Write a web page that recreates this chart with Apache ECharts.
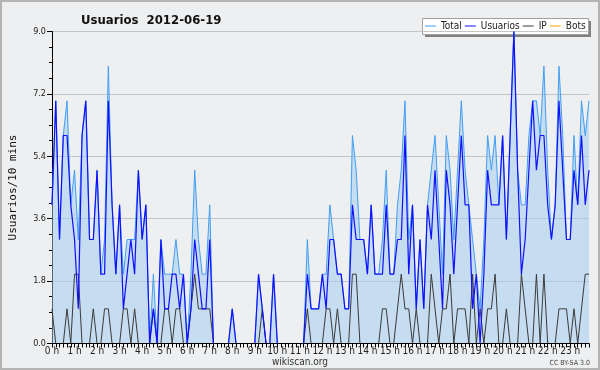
<!DOCTYPE html>
<html><head><meta charset="utf-8">
<script src="https://cdn.jsdelivr.net/npm/echarts@6/dist/echarts.min.js"></script>
<style>html,body{margin:0;padding:0;background:#eeeff0;}#c{width:600px;height:370px;}</style>
</head><body><div id="c"></div>
<script>
// values per 10-minute slot, 00:00 .. 23:50
const total = [4,7,3,6,7,4,5,3,6,7,3,3,5,2,3,8,4,2,4,2,3,3,3,5,
  3,4,0,2,0,3,2,2,2,3,2,2,0,2,5,3,2,2,4,0,0,0,0,0,
  1,0,0,0,0,0,0,2,1,0,0,2,0,0,0,0,0,0,0,0,3,1,1,1,
  2,2,4,3,2,2,1,1,6,5,3,3,2,4,2,2,3,5,2,2,4,5,7,3,
  4,1,3,1,4,5,6,4,2,6,5,3,5,7,5,4,3,2,1,3,6,5,6,4,
  6,3,6,9,5,4,4,6,7,7,6,8,5,3,4,8,6,3,3,6,4,7,6,7];
const usuarios = [4,7,3,6,6,4,3,1,6,7,3,3,5,2,2,7,4,2,4,1,2,3,2,5,
  3,4,0,1,0,3,1,1,2,2,1,2,0,1,3,2,1,1,3,0,0,0,0,0,
  1,0,0,0,0,0,0,2,1,0,0,2,0,0,0,0,0,0,0,0,2,1,1,1,
  2,1,3,3,2,2,1,1,4,3,3,3,2,4,2,2,2,4,2,2,3,3,6,2,
  4,1,3,1,4,3,5,3,1,5,4,2,4,6,4,4,1,2,0,2,5,4,4,4,
  6,3,6,9,5,2,3,5,7,5,6,6,4,3,4,7,5,3,3,5,4,6,4,5];
const ip = [1,0,0,0,1,0,2,2,0,0,0,1,0,0,1,1,0,0,0,1,1,0,1,0,
  0,0,0,1,0,0,1,1,0,1,1,0,0,1,2,1,1,1,1,0,0,0,0,0,
  0,0,0,0,0,0,0,0,1,0,0,0,0,0,0,0,0,0,0,0,1,0,0,0,
  0,1,1,0,1,0,0,0,2,2,0,0,0,0,0,0,1,1,0,0,1,2,1,1,
  0,1,0,0,0,2,1,0,1,1,2,0,1,1,1,0,2,0,1,0,1,1,2,0,
  0,1,0,0,0,2,1,0,0,2,0,2,0,0,0,1,1,1,0,1,0,1,2,2];
const bots = [0,0,0,0,0,0,0,0,0,0,0,0,0,0,0,0,0,0,0,0,0,0,0,0,
  0,0,0,0,0,0,0,0,0,0,0,0,0,0,0,0,0,0,0,0,0,0,0,0,
  0,0,0,0,0,0,0,0,0,0,0,0,0,0,0,0,0,0,0,0,0,0,0,0,
  0,0,0,0,0,0,0,0,0,0,0,0,0,0,0,0,0,0,0,0,0,0,0,0,
  0,0,0,0,0,0,0,0,0,0,0,0,0,0,0,0,0,0,0,0,0,0,0,0,
  0,0,0,0,0,0,0,0,0,0,0,0,0,0,0,0,0,0,0,0,0,0,0,0];
const seriesNames = ['Total','Usuarios','IP','Bots'];
const yTickValues = [0, 1.8, 3.6, 5.4, 7.2, 9.0];
const categories = [];
for (let h = 0; h < 24; h++) for (let m = 0; m < 6; m++) categories.push(h + ':' + m + '0');

const FONT = "'DejaVu Sans Condensed','Liberation Sans Narrow','DejaVu Sans',sans-serif";
const chart = echarts.init(document.getElementById('c'));
chart.setOption({
  backgroundColor: '#eeeff0',
  animation: false,
  title: {
    text: 'Usuarios  2012-06-19', left: 76, top: 9,
    textStyle: {fontFamily: FONT, fontSize: 13, fontWeight: 'bold', color: '#111'}
  },
  legend: {
    data: seriesNames, left: 425, top: 21, padding: 0, itemGap: 3,
    icon: 'rect', itemWidth: 11, itemHeight: 1,
    textStyle: {fontFamily: FONT, fontSize: 10, color: '#222'}
  },
  grid: {left: 46.5, right: 11, top: 31.5, bottom: 26.5},
  xAxis: {
    type: 'category', data: categories, boundaryGap: false, z: 10,
    axisLine: {lineStyle: {color: '#000', width: 1}},
    axisTick: {show: true, interval: 0, length: 4, lineStyle: {color: '#000'}},
    axisLabel: {
      interval: 5, margin: 3, fontFamily: FONT, fontSize: 10, color: '#222',
      formatter: (v, idx) => (idx % 6 === 0 ? (idx / 6) + ' h' : '')
    },
    splitLine: {show: false}
  },
  yAxis: {
    type: 'value', min: yTickValues[0], max: yTickValues[yTickValues.length - 1], interval: 1.8,
    name: 'Usuarios/10 mins', nameLocation: 'middle', nameGap: 33,
    nameTextStyle: {fontFamily: "'DejaVu Sans Mono',monospace", fontSize: 11, color: '#111'},
    axisLine: {show: true, lineStyle: {color: '#000'}},
    axisTick: {show: true, length: 5, lineStyle: {color: '#000'}},
    minorTick: {show: true, splitNumber: 4, length: 3, lineStyle: {color: '#000'}},
    axisLabel: {margin: 6, fontFamily: FONT, fontSize: 9, color: '#222', formatter: v => v.toFixed(1)},
    splitLine: {lineStyle: {color: '#c4c4c4', width: 1}}
  },
  graphic: [
    {type: 'rect', shape: {x: 1, y: 1, width: 598, height: 368}, style: {fill: 'none', stroke: '#b4b4b4', lineWidth: 2}, silent: true},
    {type: 'rect', shape: {x: 425, y: 21, width: 166, height: 16}, style: {fill: '#808080'}, silent: true},
    {type: 'rect', shape: {x: 422.5, y: 18.5, width: 166, height: 16}, style: {fill: '#ffffff', stroke: '#a0a0a0', lineWidth: 1}, silent: true},
    {type: 'text', x: 300, y: 362, style: {text: 'wikiscan.org', fontFamily: FONT, fontSize: 10, fill: '#333', align: 'center', verticalAlign: 'middle'}, silent: true},
    {type: 'text', x: 590, y: 363, style: {text: 'CC BY-SA 3.0', fontFamily: FONT, fontSize: 7, fill: '#444', align: 'right', verticalAlign: 'middle'}, silent: true}
  ],
  series: [
    {name: seriesNames[0], type: 'line', data: total, symbol: 'none', z: 2,
     lineStyle: {color: '#3f9ff5', width: 1}, itemStyle: {color: '#3f9ff5'},
     areaStyle: {color: '#9ec9f0', opacity: 0.5}},
    {name: seriesNames[1], type: 'line', data: usuarios, symbol: 'none', z: 4,
     lineStyle: {color: '#1010ff', width: 1.2}, itemStyle: {color: '#1010ff'}},
    {name: seriesNames[2], type: 'line', data: ip, symbol: 'none', z: 3,
     lineStyle: {color: '#3a3a3a', width: 1}, itemStyle: {color: '#3a3a3a'}},
    {name: seriesNames[3], type: 'line', data: bots, symbol: 'none', z: 1,
     lineStyle: {color: '#ff9c00', width: 1}, itemStyle: {color: '#ff9c00'}}
  ]
});
</script></body></html>
